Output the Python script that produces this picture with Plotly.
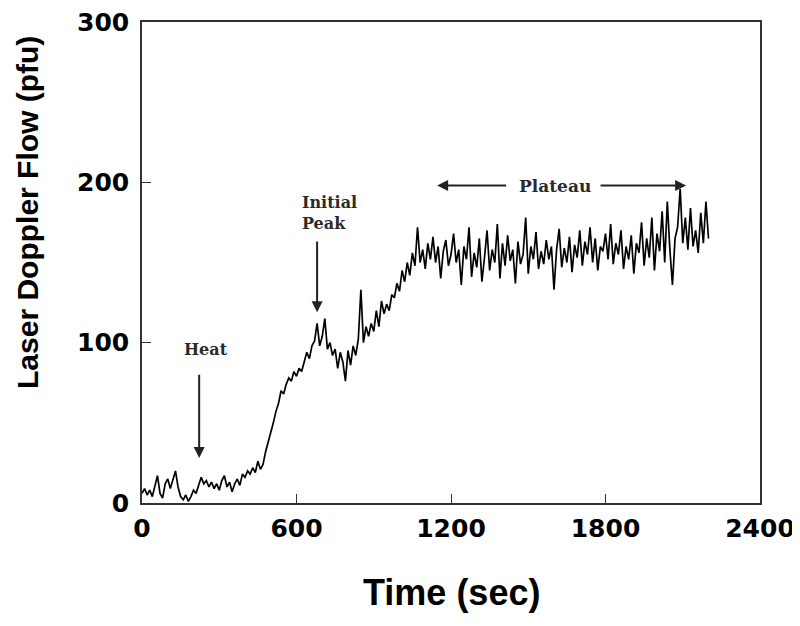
import plotly.graph_objects as go

# Laser Doppler flow trace, every 10 s
time_sec = list(range(0, 2210, 10))
flow_pfu = [
    6, 9, 5, 8, 4, 10, 17, 6, 3, 12,
    15, 9, 14, 20, 10, 4, 2, 5, 1, 4,
    8, 6, 11, 16, 12, 14, 10, 13, 9, 12,
    8, 14, 17, 10, 13, 7, 12, 15, 11, 18,
    16, 20, 18, 22, 19, 26, 21, 24, 32, 38,
    43, 50, 57, 62, 70, 68, 74, 78, 76, 82,
    79, 84, 82, 88, 94, 90, 98, 101, 112, 98,
    104, 115, 96, 100, 92, 96, 84, 94, 88, 76,
    95, 86, 98, 92, 102, 133, 100, 110, 104, 112,
    107, 120, 110, 126, 118, 124, 120, 130, 128, 137,
    132, 145, 138, 150, 142, 156, 148, 172, 150, 158,
    146, 162, 152, 166, 150, 160, 140, 157, 164, 148,
    155, 168, 150, 158, 136, 160, 152, 172, 141, 156,
    147, 165, 138, 153, 170, 145, 158, 150, 174, 140,
    162, 148, 167, 151, 158, 137, 163, 149, 155, 178,
    143, 160, 152, 169, 146, 157, 149, 164, 152, 160,
    133, 158, 171, 147, 159, 150, 166, 144, 161, 153,
    170, 148, 163, 155, 172, 150, 165, 145, 160, 157,
    168, 152, 174, 149, 162, 155, 170, 146, 160, 152,
    167, 143, 162, 156, 175, 148, 165, 153, 178, 145,
    168, 157, 182, 150, 188, 158, 136, 165, 172, 196,
    162, 178, 158, 184, 160, 170, 156, 181, 162, 188,
    165,
]

x_ticks = [0, 600, 1200, 1800, 2400]
y_ticks = [0, 100, 200, 300]

fig = go.Figure()
fig.add_trace(go.Scatter(x=time_sec, y=flow_pfu, mode="lines",
                         line=dict(color="black", width=1.7), showlegend=False))

serif = dict(family="DejaVu Serif", size=16, color="#2a2a2a", weight="bold")
arrow = dict(showarrow=True, axref="x", ayref="y", arrowhead=2, arrowsize=1.1,
             arrowwidth=2, arrowcolor="#222", text="")

# Heat
fig.add_annotation(x=248, y=96, text="Heat", showarrow=False, font=serif)
fig.add_annotation(x=222, y=28, ax=222, ay=81, **arrow)

# Initial peak
fig.add_annotation(x=614, y=181, text="Initial<br>Peak", showarrow=False,
                   font=serif, align="left", xanchor="left")
fig.add_annotation(x=680, y=119, ax=680, ay=164, **arrow)

# Plateau
fig.add_annotation(x=1604, y=198, text="Plateau", showarrow=False,
                   font=dict(serif, size=17))
fig.add_annotation(x=1146, y=198, ax=1420, ay=198, **arrow)
fig.add_annotation(x=2113, y=198, ax=1775, ay=198, **arrow)

# axis titles
fig.add_annotation(xref="paper", yref="paper", x=-0.1845, y=0.605, text="Laser Doppler Flow (pfu)",
                   textangle=-90, showarrow=False, xanchor="center", yanchor="middle",
                   font=dict(family="Liberation Sans", size=30, color="black", weight="bold"))
fig.add_annotation(xref="paper", yref="paper", x=0.5, y=-0.187, text="Time (sec)",
                   showarrow=False, xanchor="center", yanchor="middle",
                   font=dict(family="Liberation Sans", size=36, color="black", weight="bold"))

axis_style = dict(showline=True, linecolor="#333", linewidth=1.5, mirror=True,
                  ticks="inside", ticklen=9, tickwidth=1.2, tickcolor="#333",
                  showgrid=False, zeroline=False, ticklabeloverflow="allow",
                  automargin=False,
                  tickfont=dict(family="DejaVu Sans", size=25, color="black", weight="bold"))

fig.update_xaxes(range=[0, 2400], tickvals=x_ticks, ticklabelstandoff=2, **axis_style)
fig.update_yaxes(range=[0, 300], tickvals=y_ticks, ticklabelstandoff=6, **axis_style)

fig.update_layout(width=800, height=626, plot_bgcolor="white", paper_bgcolor="white",
                  margin=dict(l=134, r=48, t=14, b=131))

fig.write_html("out.html")
